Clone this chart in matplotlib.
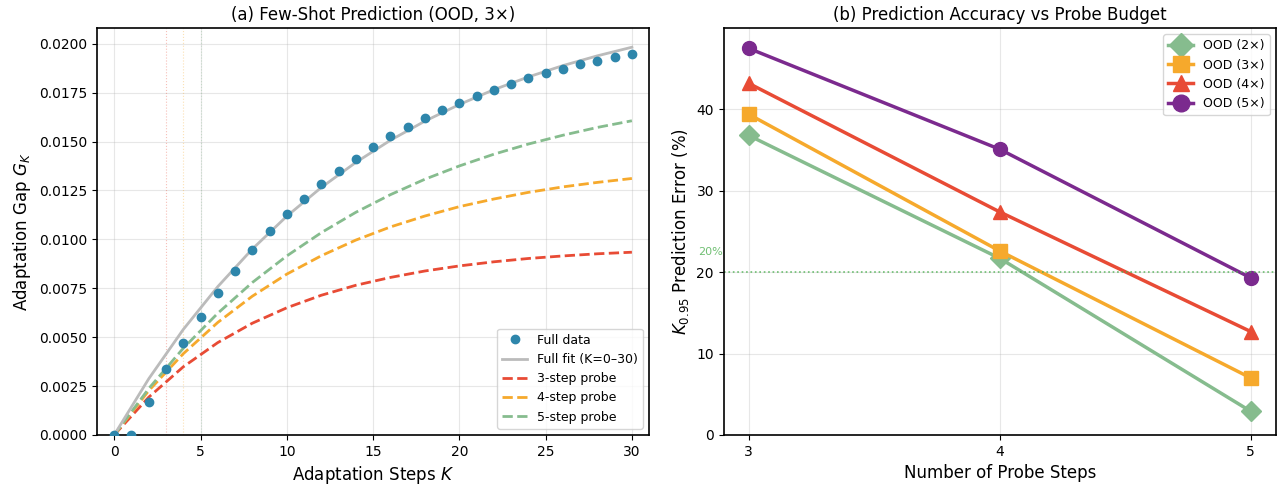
"""Few-shot prediction of the adaptation gap and probe-budget accuracy"""

import matplotlib
matplotlib.use('Agg')
import matplotlib.pyplot as plt

# --- (a) adaptation gap per step, OOD 3x ---
steps = list(range(31))
gap_data = [0.0, 0.0, 0.00170, 0.00335, 0.00472, 0.00604, 0.00727, 0.00839,
            0.00944, 0.01041, 0.01128, 0.01207, 0.01282, 0.01350, 0.01412,
            0.01471, 0.01526, 0.01573, 0.01619, 0.01660, 0.01697, 0.01731,
            0.01765, 0.01794, 0.01823, 0.01849, 0.01872, 0.01895, 0.01913,
            0.01932, 0.01949]

# fitted curves sampled every 2 steps
fit_steps = list(range(0, 31, 2))
fit_full = [0.0, 0.00287, 0.00539, 0.00758, 0.00950, 0.01118, 0.01265,
            0.01393, 0.01506, 0.01604, 0.01689, 0.01765, 0.01830, 0.01888,
            0.01938, 0.01982]
fit_probe3 = [0.0, 0.00193, 0.00348, 0.00472, 0.00571, 0.00650, 0.00714,
              0.00765, 0.00805, 0.00838, 0.00864, 0.00885, 0.00902, 0.00915,
              0.00926, 0.00934]
fit_probe4 = [0.0, 0.00226, 0.00415, 0.00575, 0.00709, 0.00822, 0.00916,
              0.00996, 0.01063, 0.01119, 0.01167, 0.01206, 0.01240, 0.01268,
              0.01291, 0.01311]
fit_probe5 = [0.0, 0.00237, 0.00443, 0.00622, 0.00779, 0.00915, 0.01034,
              0.01138, 0.01228, 0.01307, 0.01375, 0.01435, 0.01487, 0.01532,
              0.01572, 0.01606]
probe_lengths = [3, 4, 5]

# --- (b) K_0.95 prediction error vs probe budget ---
probe_steps = [3, 4, 5]
err_ood2 = [36.8, 21.7, 2.9]
err_ood3 = [39.4, 22.6, 7.0]
err_ood4 = [43.2, 27.4, 12.7]
err_ood5 = [47.5, 35.1, 19.3]
err_threshold = 20

RED = '#E84B35'
ORANGE = '#F6A92C'
GREEN = '#86BC8E'
PURPLE = '#7B2A8E'
BLUE = '#2E86AB'

plt.rcParams['axes.linewidth'] = 1.2

fig, (ax1, ax2) = plt.subplots(1, 2, figsize=(12.81, 4.92), dpi=100)
fig.subplots_adjust(left=0.0757, right=0.996, bottom=0.116, top=0.943,
                    wspace=0.135)

# left panel
probe_colors = [RED, ORANGE, GREEN]
for n, c in zip(probe_lengths, probe_colors):
    ax1.axvline(n, color=c, linestyle=':', linewidth=0.8, alpha=0.35)

ax1.plot(steps, gap_data, 'o', color=BLUE, markersize=6, label='Full data',
         zorder=4)
ax1.plot(fit_steps, fit_full, '-', color='#BBBBBB', linewidth=2,
         label='Full fit (K=0–30)', zorder=3)
ax1.plot(fit_steps, fit_probe3, '--', color=RED, linewidth=2,
         label='3-step probe')
ax1.plot(fit_steps, fit_probe4, '--', color=ORANGE, linewidth=2,
         label='4-step probe')
ax1.plot(fit_steps, fit_probe5, '--', color=GREEN, linewidth=2,
         label='5-step probe')

ax1.set_xlim(-1, 31)
ax1.set_ylim(0, 0.0208)
ax1.set_yticks([0.0, 0.0025, 0.005, 0.0075, 0.01, 0.0125, 0.015, 0.0175,
                0.02])
ax1.yaxis.set_major_formatter(matplotlib.ticker.FormatStrFormatter('%.4f'))
ax1.set_xlabel('Adaptation Steps $K$', fontsize=12)
ax1.set_ylabel('Adaptation Gap $G_K$', fontsize=12)
ax1.set_title('(a) Few-Shot Prediction (OOD, 3×)', fontsize=12)
ax1.grid(True, alpha=0.3)
ax1.legend(loc='lower right', fontsize=9)

# right panel
series = [(err_ood2, GREEN, 'D', 'OOD (2×)'),
          (err_ood3, ORANGE, 's', 'OOD (3×)'),
          (err_ood4, RED, '^', 'OOD (4×)'),
          (err_ood5, PURPLE, 'o', 'OOD (5×)')]
for vals, c, m, lab in series:
    ax2.plot(probe_steps, vals, marker=m, color=c, linewidth=2.5,
             markersize=10, label=lab)

ax2.axhline(err_threshold, color='#4CAF50', linestyle=':', linewidth=1.2,
            alpha=0.8)
ax2.text(2.8, err_threshold + 1.9, '20%', color='#4CAF50', fontsize=8,
         alpha=0.8, va='bottom')

ax2.set_xlim(2.9, 5.1)
ax2.set_ylim(0, 50)
ax2.set_xticks(probe_steps)
ax2.set_yticks([0, 10, 20, 30, 40])
ax2.set_xlabel('Number of Probe Steps', fontsize=12)
ax2.set_ylabel('$K_{0.95}$ Prediction Error (%)', fontsize=12)
ax2.set_title('(b) Prediction Accuracy vs Probe Budget', fontsize=12)
ax2.grid(True, alpha=0.3)
ax2.legend(loc='upper right', fontsize=9, markerscale=1.2)

fig.savefig('out.png', dpi=100)
